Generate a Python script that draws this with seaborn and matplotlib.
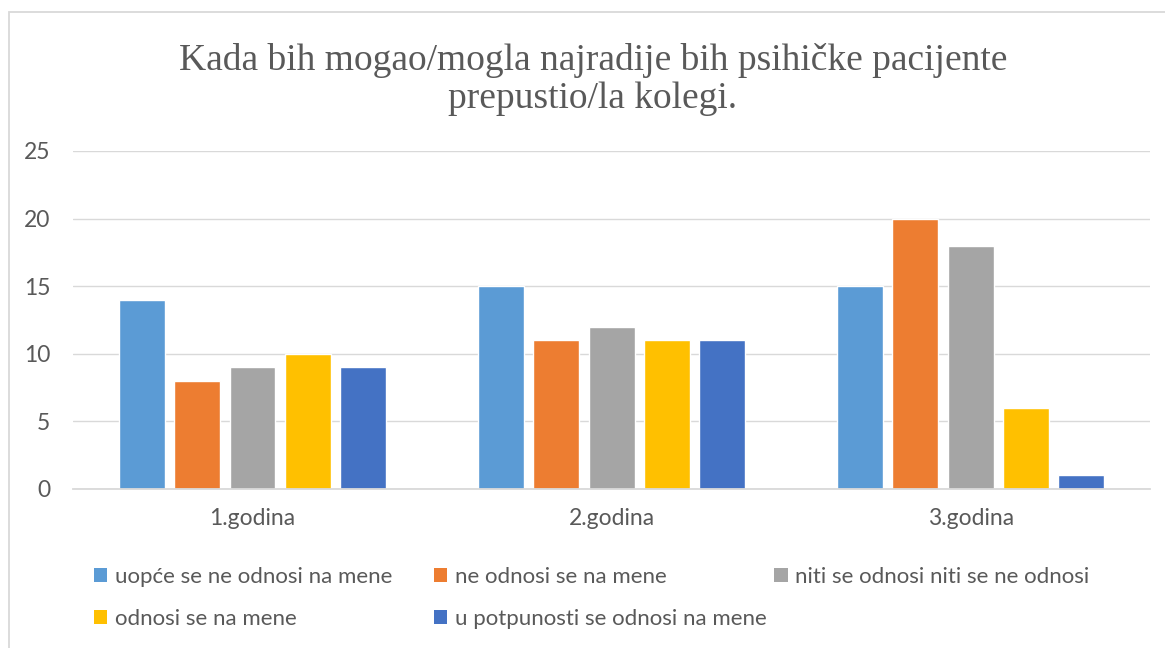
import pandas as pd
import numpy as np
import seaborn as sns
import matplotlib.pyplot as plt
from matplotlib.patches import Patch, Rectangle

# data
godine = ['1.godina', '2.godina', '3.godina']
odgovori = ['uopće se ne odnosi na mene', 'ne odnosi se na mene',
            'niti se odnosi niti se ne odnosi', 'odnosi se na mene',
            'u potpunosti se odnosi na mene']
uopce = [14, 15, 15]
ne_odnosi = [8, 11, 20]
niti = [9, 12, 18]
odnosi = [10, 11, 6]
potpuno = [9, 11, 1]
boje = ['#5B9BD5', '#ED7D31', '#A5A5A5', '#FFC000', '#4472C4']

rows = []
for odg, vals in zip(odgovori, [uopce, ne_odnosi, niti, odnosi, potpuno]):
    for g, v in zip(godine, vals):
        rows.append({'godina': g, 'odgovor': odg, 'broj': v})
df = pd.DataFrame(rows)

sns.set_style('white')
plt.rcParams['font.family'] = ['Lato', 'DejaVu Sans']
txt = '#595959'

fig = plt.figure(figsize=(11.65, 6.48), dpi=100)
ax = fig.add_axes([0.0627, 0.2454, 0.9245, 0.5216])

sns.barplot(data=df, x='godina', y='broj', hue='odgovor', hue_order=odgovori,
            palette=boje, width=0.77, gap=0.17, saturation=1, legend=False, ax=ax)

ax.set_ylim(0, 25)
ax.set_yticks(range(0, 26, 5))
ax.yaxis.grid(True, color='#D9D9D9', lw=1)
ax.set_axisbelow(True)
for s in ['top', 'right', 'left']:
    ax.spines[s].set_visible(False)
ax.spines['bottom'].set_color('#D9D9D9')
ax.spines['bottom'].set_linewidth(1.3)
ax.tick_params(axis='both', length=0, labelsize=16.5, colors=txt)
ax.tick_params(axis='x', pad=14)
ax.tick_params(axis='y', pad=16.5)
ax.set_xlabel('')
ax.set_ylabel('')

fig.text(0.509, 0.877, 'Kada bih mogao/mogla najradije bih psihičke pacijente\nprepustio/la kolegi.',
         ha='center', va='center', fontsize=27, color=txt, family='Liberation Serif',
         linespacing=1.12)

# chart border (only left and top are inside the picture)
fig.patches.append(Rectangle((9 / 1165, -0.1), 1.2, 1 - 12 / 648 + 0.1, transform=fig.transFigure,
                             fill=False, edgecolor='#D9D9D9', lw=1.3))

# legend: three columns, laid out row by row
handles = [Patch(facecolor=c, edgecolor='none') for c in boje]
kolone = [(0.073, [0, 3]), (0.365, [1, 4]), (0.657, [2])]
for x0, idx in kolone:
    leg = fig.legend([handles[i] for i in idx], [odgovori[i] for i in idx],
                     loc='upper left', bbox_to_anchor=(x0, 0.139), frameon=False,
                     fontsize=16, handlelength=0.6, handleheight=0.6, handletextpad=0.35,
                     labelspacing=1.0, borderaxespad=0, labelcolor=txt)

fig.savefig('out.png', dpi=100)
